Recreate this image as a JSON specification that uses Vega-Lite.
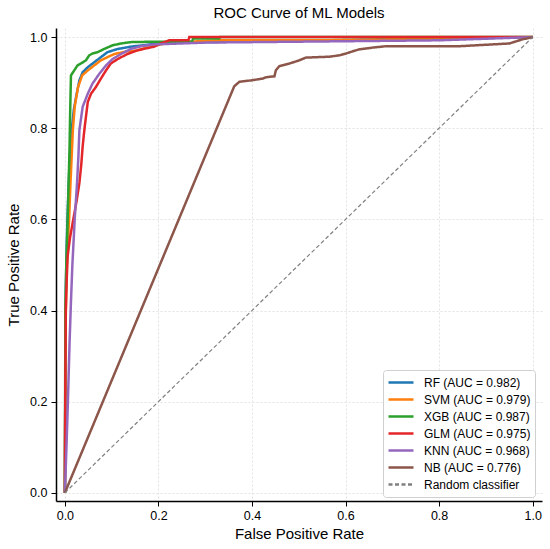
{
  "$schema": "https://vega.github.io/schema/vega-lite/v6.json",
  "autosize": {"type": "none"},
  "width": 486,
  "height": 473,
  "padding": {"left": 56, "top": 28, "right": 8, "bottom": 48},
  "background": "white",
  "config": {
    "font": "Liberation Sans",
    "view": {"stroke": null},
    "axis": {
      "domainColor": "black",
      "domainWidth": 1.5,
      "tickColor": "black",
      "tickWidth": 1,
      "tickSize": 5,
      "labelColor": "black",
      "labelFontSize": 12.5,
      "titleColor": "black",
      "titleFontSize": 15,
      "titleFontWeight": "normal",
      "gridColor": "#dcdcdc",
      "gridDash": [2, 2],
      "gridWidth": 0.8
    }
  },
  "title": {
    "text": "ROC Curve of ML Models",
    "fontSize": 15,
    "fontWeight": "normal",
    "color": "black",
    "anchor": "middle",
    "offset": 7
  },
  "datasets": {
    "curves": [
      {"model": "RF (AUC = 0.982)", "fpr": 0, "tpr": 0},
      {"model": "RF (AUC = 0.982)", "fpr": 0.001, "tpr": 0.3},
      {"model": "RF (AUC = 0.982)", "fpr": 0.002, "tpr": 0.45},
      {"model": "RF (AUC = 0.982)", "fpr": 0.004, "tpr": 0.55},
      {"model": "RF (AUC = 0.982)", "fpr": 0.006, "tpr": 0.62},
      {"model": "RF (AUC = 0.982)", "fpr": 0.009, "tpr": 0.7},
      {"model": "RF (AUC = 0.982)", "fpr": 0.012, "tpr": 0.76},
      {"model": "RF (AUC = 0.982)", "fpr": 0.015, "tpr": 0.8},
      {"model": "RF (AUC = 0.982)", "fpr": 0.019, "tpr": 0.84},
      {"model": "RF (AUC = 0.982)", "fpr": 0.024, "tpr": 0.869},
      {"model": "RF (AUC = 0.982)", "fpr": 0.031, "tpr": 0.905},
      {"model": "RF (AUC = 0.982)", "fpr": 0.038, "tpr": 0.923},
      {"model": "RF (AUC = 0.982)", "fpr": 0.049, "tpr": 0.934},
      {"model": "RF (AUC = 0.982)", "fpr": 0.063, "tpr": 0.945},
      {"model": "RF (AUC = 0.982)", "fpr": 0.077, "tpr": 0.956},
      {"model": "RF (AUC = 0.982)", "fpr": 0.091, "tpr": 0.967},
      {"model": "RF (AUC = 0.982)", "fpr": 0.113, "tpr": 0.974},
      {"model": "RF (AUC = 0.982)", "fpr": 0.141, "tpr": 0.979},
      {"model": "RF (AUC = 0.982)", "fpr": 0.191, "tpr": 0.985},
      {"model": "RF (AUC = 0.982)", "fpr": 0.25, "tpr": 0.988},
      {"model": "RF (AUC = 0.982)", "fpr": 0.35, "tpr": 0.99},
      {"model": "RF (AUC = 0.982)", "fpr": 0.5, "tpr": 0.992},
      {"model": "RF (AUC = 0.982)", "fpr": 0.7, "tpr": 0.995},
      {"model": "RF (AUC = 0.982)", "fpr": 0.9, "tpr": 0.998},
      {"model": "RF (AUC = 0.982)", "fpr": 1, "tpr": 1},

      {"model": "SVM (AUC = 0.979)", "fpr": 0, "tpr": 0},
      {"model": "SVM (AUC = 0.979)", "fpr": 0.001, "tpr": 0.25},
      {"model": "SVM (AUC = 0.979)", "fpr": 0.002, "tpr": 0.4},
      {"model": "SVM (AUC = 0.979)", "fpr": 0.004, "tpr": 0.5},
      {"model": "SVM (AUC = 0.979)", "fpr": 0.007, "tpr": 0.56},
      {"model": "SVM (AUC = 0.979)", "fpr": 0.009, "tpr": 0.6},
      {"model": "SVM (AUC = 0.979)", "fpr": 0.012, "tpr": 0.68},
      {"model": "SVM (AUC = 0.979)", "fpr": 0.015, "tpr": 0.75},
      {"model": "SVM (AUC = 0.979)", "fpr": 0.017, "tpr": 0.796},
      {"model": "SVM (AUC = 0.979)", "fpr": 0.021, "tpr": 0.847},
      {"model": "SVM (AUC = 0.979)", "fpr": 0.028, "tpr": 0.89},
      {"model": "SVM (AUC = 0.979)", "fpr": 0.037, "tpr": 0.916},
      {"model": "SVM (AUC = 0.979)", "fpr": 0.049, "tpr": 0.927},
      {"model": "SVM (AUC = 0.979)", "fpr": 0.063, "tpr": 0.938},
      {"model": "SVM (AUC = 0.979)", "fpr": 0.077, "tpr": 0.949},
      {"model": "SVM (AUC = 0.979)", "fpr": 0.091, "tpr": 0.956},
      {"model": "SVM (AUC = 0.979)", "fpr": 0.106, "tpr": 0.963},
      {"model": "SVM (AUC = 0.979)", "fpr": 0.134, "tpr": 0.969},
      {"model": "SVM (AUC = 0.979)", "fpr": 0.152, "tpr": 0.97},
      {"model": "SVM (AUC = 0.979)", "fpr": 0.181, "tpr": 0.979},
      {"model": "SVM (AUC = 0.979)", "fpr": 0.223, "tpr": 0.988},
      {"model": "SVM (AUC = 0.979)", "fpr": 0.33, "tpr": 0.993},
      {"model": "SVM (AUC = 0.979)", "fpr": 0.55, "tpr": 0.993},
      {"model": "SVM (AUC = 0.979)", "fpr": 0.75, "tpr": 0.996},
      {"model": "SVM (AUC = 0.979)", "fpr": 1, "tpr": 1},

      {"model": "XGB (AUC = 0.987)", "fpr": 0, "tpr": 0},
      {"model": "XGB (AUC = 0.987)", "fpr": 0.001, "tpr": 0.4},
      {"model": "XGB (AUC = 0.987)", "fpr": 0.003, "tpr": 0.5},
      {"model": "XGB (AUC = 0.987)", "fpr": 0.006, "tpr": 0.6},
      {"model": "XGB (AUC = 0.987)", "fpr": 0.008, "tpr": 0.68},
      {"model": "XGB (AUC = 0.987)", "fpr": 0.01, "tpr": 0.76},
      {"model": "XGB (AUC = 0.987)", "fpr": 0.011, "tpr": 0.82},
      {"model": "XGB (AUC = 0.987)", "fpr": 0.012, "tpr": 0.87},
      {"model": "XGB (AUC = 0.987)", "fpr": 0.013, "tpr": 0.916},
      {"model": "XGB (AUC = 0.987)", "fpr": 0.02, "tpr": 0.927},
      {"model": "XGB (AUC = 0.987)", "fpr": 0.027, "tpr": 0.938},
      {"model": "XGB (AUC = 0.987)", "fpr": 0.034, "tpr": 0.942},
      {"model": "XGB (AUC = 0.987)", "fpr": 0.045, "tpr": 0.949},
      {"model": "XGB (AUC = 0.987)", "fpr": 0.052, "tpr": 0.96},
      {"model": "XGB (AUC = 0.987)", "fpr": 0.059, "tpr": 0.964},
      {"model": "XGB (AUC = 0.987)", "fpr": 0.07, "tpr": 0.967},
      {"model": "XGB (AUC = 0.987)", "fpr": 0.084, "tpr": 0.974},
      {"model": "XGB (AUC = 0.987)", "fpr": 0.102, "tpr": 0.982},
      {"model": "XGB (AUC = 0.987)", "fpr": 0.12, "tpr": 0.986},
      {"model": "XGB (AUC = 0.987)", "fpr": 0.141, "tpr": 0.989},
      {"model": "XGB (AUC = 0.987)", "fpr": 0.191, "tpr": 0.99},
      {"model": "XGB (AUC = 0.987)", "fpr": 0.272, "tpr": 0.99},
      {"model": "XGB (AUC = 0.987)", "fpr": 0.274, "tpr": 0.997},
      {"model": "XGB (AUC = 0.987)", "fpr": 0.33, "tpr": 0.997},
      {"model": "XGB (AUC = 0.987)", "fpr": 0.332, "tpr": 1},
      {"model": "XGB (AUC = 0.987)", "fpr": 1, "tpr": 1},

      {"model": "GLM (AUC = 0.975)", "fpr": 0, "tpr": 0},
      {"model": "GLM (AUC = 0.975)", "fpr": 0.001, "tpr": 0.25},
      {"model": "GLM (AUC = 0.975)", "fpr": 0.002, "tpr": 0.4},
      {"model": "GLM (AUC = 0.975)", "fpr": 0.004, "tpr": 0.47},
      {"model": "GLM (AUC = 0.975)", "fpr": 0.006, "tpr": 0.52},
      {"model": "GLM (AUC = 0.975)", "fpr": 0.011, "tpr": 0.56},
      {"model": "GLM (AUC = 0.975)", "fpr": 0.018, "tpr": 0.6},
      {"model": "GLM (AUC = 0.975)", "fpr": 0.025, "tpr": 0.64},
      {"model": "GLM (AUC = 0.975)", "fpr": 0.031, "tpr": 0.68},
      {"model": "GLM (AUC = 0.975)", "fpr": 0.035, "tpr": 0.72},
      {"model": "GLM (AUC = 0.975)", "fpr": 0.038, "tpr": 0.76},
      {"model": "GLM (AUC = 0.975)", "fpr": 0.042, "tpr": 0.8},
      {"model": "GLM (AUC = 0.975)", "fpr": 0.045, "tpr": 0.825},
      {"model": "GLM (AUC = 0.975)", "fpr": 0.049, "tpr": 0.858},
      {"model": "GLM (AUC = 0.975)", "fpr": 0.056, "tpr": 0.876},
      {"model": "GLM (AUC = 0.975)", "fpr": 0.066, "tpr": 0.89},
      {"model": "GLM (AUC = 0.975)", "fpr": 0.077, "tpr": 0.909},
      {"model": "GLM (AUC = 0.975)", "fpr": 0.088, "tpr": 0.927},
      {"model": "GLM (AUC = 0.975)", "fpr": 0.098, "tpr": 0.942},
      {"model": "GLM (AUC = 0.975)", "fpr": 0.113, "tpr": 0.952},
      {"model": "GLM (AUC = 0.975)", "fpr": 0.134, "tpr": 0.963},
      {"model": "GLM (AUC = 0.975)", "fpr": 0.155, "tpr": 0.971},
      {"model": "GLM (AUC = 0.975)", "fpr": 0.177, "tpr": 0.976},
      {"model": "GLM (AUC = 0.975)", "fpr": 0.191, "tpr": 0.979},
      {"model": "GLM (AUC = 0.975)", "fpr": 0.205, "tpr": 0.986},
      {"model": "GLM (AUC = 0.975)", "fpr": 0.223, "tpr": 0.993},
      {"model": "GLM (AUC = 0.975)", "fpr": 0.264, "tpr": 0.993},
      {"model": "GLM (AUC = 0.975)", "fpr": 0.266, "tpr": 1},
      {"model": "GLM (AUC = 0.975)", "fpr": 1, "tpr": 1},

      {"model": "KNN (AUC = 0.968)", "fpr": 0, "tpr": 0},
      {"model": "KNN (AUC = 0.968)", "fpr": 0.004, "tpr": 0.12},
      {"model": "KNN (AUC = 0.968)", "fpr": 0.007, "tpr": 0.22},
      {"model": "KNN (AUC = 0.968)", "fpr": 0.01, "tpr": 0.33},
      {"model": "KNN (AUC = 0.968)", "fpr": 0.013, "tpr": 0.42},
      {"model": "KNN (AUC = 0.968)", "fpr": 0.016, "tpr": 0.5},
      {"model": "KNN (AUC = 0.968)", "fpr": 0.021, "tpr": 0.6},
      {"model": "KNN (AUC = 0.968)", "fpr": 0.026, "tpr": 0.68},
      {"model": "KNN (AUC = 0.968)", "fpr": 0.029, "tpr": 0.74},
      {"model": "KNN (AUC = 0.968)", "fpr": 0.031, "tpr": 0.796},
      {"model": "KNN (AUC = 0.968)", "fpr": 0.038, "tpr": 0.847},
      {"model": "KNN (AUC = 0.968)", "fpr": 0.049, "tpr": 0.876},
      {"model": "KNN (AUC = 0.968)", "fpr": 0.059, "tpr": 0.898},
      {"model": "KNN (AUC = 0.968)", "fpr": 0.074, "tpr": 0.92},
      {"model": "KNN (AUC = 0.968)", "fpr": 0.088, "tpr": 0.938},
      {"model": "KNN (AUC = 0.968)", "fpr": 0.102, "tpr": 0.952},
      {"model": "KNN (AUC = 0.968)", "fpr": 0.12, "tpr": 0.963},
      {"model": "KNN (AUC = 0.968)", "fpr": 0.141, "tpr": 0.974},
      {"model": "KNN (AUC = 0.968)", "fpr": 0.163, "tpr": 0.98},
      {"model": "KNN (AUC = 0.968)", "fpr": 0.191, "tpr": 0.984},
      {"model": "KNN (AUC = 0.968)", "fpr": 0.3, "tpr": 0.988},
      {"model": "KNN (AUC = 0.968)", "fpr": 0.5, "tpr": 0.99},
      {"model": "KNN (AUC = 0.968)", "fpr": 0.8, "tpr": 0.993},
      {"model": "KNN (AUC = 0.968)", "fpr": 1, "tpr": 1},

      {"model": "NB (AUC = 0.776)", "fpr": 0, "tpr": 0},
      {"model": "NB (AUC = 0.776)", "fpr": 0.362, "tpr": 0.892},
      {"model": "NB (AUC = 0.776)", "fpr": 0.373, "tpr": 0.902},
      {"model": "NB (AUC = 0.776)", "fpr": 0.398, "tpr": 0.905},
      {"model": "NB (AUC = 0.776)", "fpr": 0.423, "tpr": 0.909},
      {"model": "NB (AUC = 0.776)", "fpr": 0.43, "tpr": 0.912},
      {"model": "NB (AUC = 0.776)", "fpr": 0.448, "tpr": 0.914},
      {"model": "NB (AUC = 0.776)", "fpr": 0.451, "tpr": 0.927},
      {"model": "NB (AUC = 0.776)", "fpr": 0.458, "tpr": 0.936},
      {"model": "NB (AUC = 0.776)", "fpr": 0.48, "tpr": 0.942},
      {"model": "NB (AUC = 0.776)", "fpr": 0.501, "tpr": 0.949},
      {"model": "NB (AUC = 0.776)", "fpr": 0.515, "tpr": 0.955},
      {"model": "NB (AUC = 0.776)", "fpr": 0.565, "tpr": 0.957},
      {"model": "NB (AUC = 0.776)", "fpr": 0.587, "tpr": 0.96},
      {"model": "NB (AUC = 0.776)", "fpr": 0.601, "tpr": 0.964},
      {"model": "NB (AUC = 0.776)", "fpr": 0.619, "tpr": 0.97},
      {"model": "NB (AUC = 0.776)", "fpr": 0.629, "tpr": 0.973},
      {"model": "NB (AUC = 0.776)", "fpr": 0.658, "tpr": 0.977},
      {"model": "NB (AUC = 0.776)", "fpr": 0.686, "tpr": 0.98},
      {"model": "NB (AUC = 0.776)", "fpr": 0.843, "tpr": 0.98},
      {"model": "NB (AUC = 0.776)", "fpr": 0.914, "tpr": 0.984},
      {"model": "NB (AUC = 0.776)", "fpr": 0.95, "tpr": 0.986},
      {"model": "NB (AUC = 0.776)", "fpr": 0.978, "tpr": 0.995},
      {"model": "NB (AUC = 0.776)", "fpr": 1, "tpr": 1}
    ],
    "diagonal": [
      {"model": "Random classifier", "fpr": 0, "tpr": 0},
      {"model": "Random classifier", "fpr": 1, "tpr": 1}
    ]
  },
  "encoding": {
    "x": {
      "field": "fpr",
      "type": "quantitative",
      "scale": {"domain": [-0.019, 1.02], "nice": false, "zero": false},
      "axis": {
        "title": "False Positive Rate",
        "values": [0, 0.2, 0.4, 0.6, 0.8, 1],
        "format": ".1f",
        "labelPadding": 3,
        "titlePadding": 5
      }
    },
    "y": {
      "field": "tpr",
      "type": "quantitative",
      "scale": {"domain": [-0.018, 1.02], "nice": false, "zero": false},
      "axis": {
        "title": "True Positive Rate",
        "values": [0, 0.2, 0.4, 0.6, 0.8, 1],
        "format": ".1f",
        "labelPadding": 4,
        "titlePadding": 8
      }
    },
    "color": {
      "field": "model",
      "type": "nominal",
      "scale": {
        "domain": ["RF (AUC = 0.982)", "SVM (AUC = 0.979)", "XGB (AUC = 0.987)", "GLM (AUC = 0.975)", "KNN (AUC = 0.968)", "NB (AUC = 0.776)", "Random classifier"],
        "range": ["#1f77b4", "#ff7f0e", "#2ca02c", "#e3262a", "#9467bd", "#8c564b", "#808080"]
      },
      "legend": {
        "title": null,
        "orient": "none",
        "legendX": 327,
        "legendY": 342,
        "symbolType": "stroke",
        "symbolSize": 625,
        "symbolStrokeWidth": 2.5,
        "labelFontSize": 12,
        "labelColor": "black",
        "labelOffset": 9,
        "clipHeight": 17,
        "rowPadding": 0,
        "padding": 4,
        "strokeColor": "#d0d0d0",
        "fillColor": "white",
        "cornerRadius": 3
      }
    },
    "strokeDash": {
      "field": "model",
      "type": "nominal",
      "scale": {
        "domain": ["RF (AUC = 0.982)", "SVM (AUC = 0.979)", "XGB (AUC = 0.987)", "GLM (AUC = 0.975)", "KNN (AUC = 0.968)", "NB (AUC = 0.776)", "Random classifier"],
        "range": [[1, 0], [1, 0], [1, 0], [1, 0], [1, 0], [1, 0], [4, 2.5]]
      },
      "legend": null
    }
  },
  "layer": [
    {
      "data": {"name": "curves"},
      "mark": {"type": "line", "strokeWidth": 2.5}
    },
    {
      "data": {"name": "diagonal"},
      "mark": {"type": "line", "strokeWidth": 1.2}
    }
  ]
}
